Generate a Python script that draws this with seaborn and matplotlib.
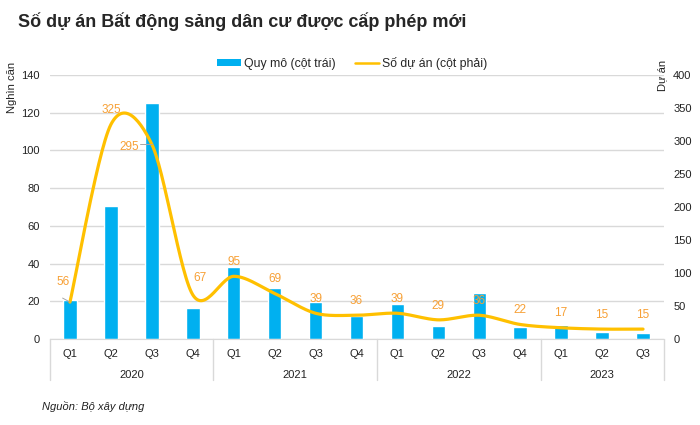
import numpy as np
import pandas as pd
import seaborn as sns
import matplotlib.pyplot as plt
from matplotlib.patches import Patch
from matplotlib.lines import Line2D

quarters = ["Q1", "Q2", "Q3", "Q4", "Q1", "Q2", "Q3", "Q4",
            "Q1", "Q2", "Q3", "Q4", "Q1", "Q2", "Q3"]
years = ["2020", "2021", "2022", "2023"]
year_sizes = [4, 4, 4, 3]
quy_mo = [20.5, 70.5, 125, 16.5, 38.2, 27.2, 19.7, 12.3,
          18.8, 7, 24.3, 6.2, 7.5, 3.8, 3.4]  # nghìn căn (cột trái)
so_du_an = [56, 325, 295, 67, 95, 69, 39, 36, 39, 29, 36, 22, 17, 15, 15]  # cột phải

BLUE = "#00B0F0"
GOLD = "#FFC000"
LABEL = "#F7A035"
GRID = "#D9D9D9"

sns.set_style("white")
plt.rcParams["font.family"] = ["Liberation Sans", "DejaVu Sans"]

keys = [f"{i:02d}" for i in range(len(quarters))]
df = pd.DataFrame({"key": keys, "quy_mo": quy_mo, "so_du_an": so_du_an})


def smooth(y, n=30, k=1 / 6.5):
    # đường cong kiểu Excel (Bezier qua các điểm dữ liệu)
    y = np.asarray(y, dtype=float)
    x = np.arange(len(y), dtype=float)
    pts = np.column_stack([x, y])
    out = []
    for i in range(len(pts) - 1):
        p0 = pts[max(i - 1, 0)]
        p1 = pts[i]
        p2 = pts[i + 1]
        p3 = pts[min(i + 2, len(pts) - 1)]
        c1 = p1 + (p2 - p0) * k
        c2 = p2 - (p3 - p1) * k
        t = np.linspace(0, 1, n)[:, None]
        seg = ((1 - t) ** 3) * p1 + 3 * ((1 - t) ** 2) * t * c1 + 3 * (1 - t) * t ** 2 * c2 + t ** 3 * p2
        out.append(seg if i == 0 else seg[1:])
    seg = np.vstack(out)
    return seg[:, 0], seg[:, 1]


fig = plt.figure(figsize=(7, 4.25), dpi=100)
ax = fig.add_axes([49.5 / 700, 1 - 339 / 425, 614 / 700, 264 / 425])

sns.barplot(data=df, x="key", y="quy_mo", color=BLUE, saturation=1, width=0.33, ax=ax)
ax.set_xlim(-0.5, len(keys) - 0.5)
ax.set_ylim(0, 140)
ax.set_yticks(range(0, 141, 20))
ax.yaxis.grid(True, color=GRID, lw=1)
ax.set_axisbelow(True)
ax.set_xlabel("")
ax.set_ylabel("")
ax.set_xticks(range(len(keys)))
ax.set_xticklabels(quarters)
ax.tick_params(axis="both", length=0, labelsize=8, colors="#222222")
ax.tick_params(axis="x", pad=7.5)
ax.tick_params(axis="y", pad=7)
for s in ["top", "right", "left"]:
    ax.spines[s].set_visible(False)
ax.spines["bottom"].set_color(GRID)

ax2 = ax.twinx()
ax2.set_ylim(0, 400)
ax2.set_yticks(range(0, 401, 50))
ax2.tick_params(axis="y", length=0, labelsize=8, colors="#222222", pad=7)
for s in ax2.spines.values():
    s.set_visible(False)
sx, sy = smooth(so_du_an)
ax2.plot(sx, sy, color=GOLD, lw=2.3, solid_capstyle="round")

# nhãn số dự án
for i, v in enumerate(so_du_an):
    dx, dy, ha = 0, 6, "center"
    if i == 0:
        dx, dy = -5, 10
    elif i == 2:
        dx, dy, ha = -9, -2, "right"
    elif i == 3:
        dx, dy = 5, 8
    ax2.annotate(str(v), (i, v), xytext=(dx, dy), textcoords="offset points",
                 ha=ha, va="bottom" if i != 2 else "center", fontsize=8.5, color=LABEL)
ax2.plot([-0.18, 0], [62, 56], color="#A6A6A6", lw=0.7)
ax2.plot([1.7, 2.0], [296, 296], color="#A6A6A6", lw=0.7)

# nhóm năm dưới trục x
trans = ax.get_xaxis_transform()
edges = np.cumsum([0] + year_sizes) - 0.5
for e in edges:
    ax.plot([e, e], [0, -0.155], transform=trans, color=GRID, lw=1, clip_on=False)
for yr, a, b in zip(years, edges[:-1], edges[1:]):
    ax.text((a + b) / 2, -0.135, yr, transform=trans, ha="center", va="center",
            fontsize=8, color="#222222")

fig.text(18 / 700, 1 - 22 / 425, "Số dự án Bất động sảng dân cư được cấp phép mới",
         fontsize=13, fontweight="bold", va="center", ha="left",
         family=["Liberation Sans Narrow", "Liberation Sans", "DejaVu Sans"])
fig.text(12 / 700, 1 - 62 / 425, "Nghìn căn", rotation=90, va="top", ha="center",
         fontsize=8, color="#222222")
fig.text(662 / 700, 1 - 60 / 425, "Dự án", rotation=90, va="top", ha="center",
         fontsize=8, color="#222222")
fig.text(42 / 700, 1 - 406 / 425, "Nguồn: Bộ xây dựng", style="italic", fontsize=8,
         va="center", color="#222222")

handles = [Patch(facecolor=BLUE, edgecolor="none"),
           Line2D([], [], color=GOLD, lw=1.8)]
fig.legend(handles, ["Quy mô (cột trái)", "Số dự án (cột phải)"], loc="center",
           bbox_to_anchor=(352 / 700, 1 - 63 / 425), ncol=2, frameon=False,
           fontsize=8.8, handlelength=2.0, handleheight=0.5, columnspacing=1.6,
           handletextpad=0.2)

fig.savefig("out.png", dpi=100)
